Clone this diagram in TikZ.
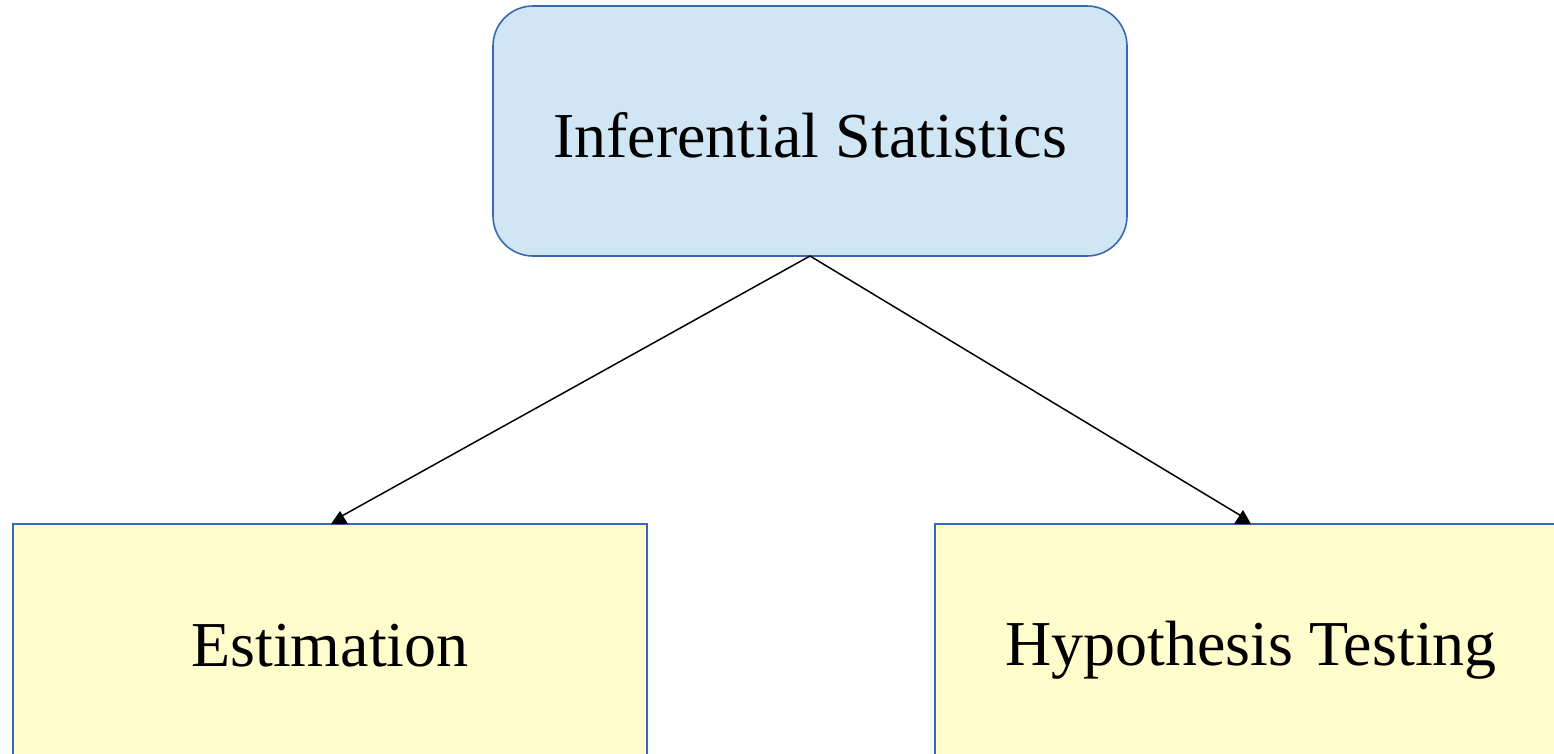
\documentclass[tikz,border=0pt]{standalone}
\usepackage{fontspec}
\setmainfont{Liberation Serif}
\definecolor{boxblue}{HTML}{D0E6F4}
\definecolor{boxyellow}{HTML}{FFFDCB}
\definecolor{edgeblue}{HTML}{3A68B0}
\tikzset{
  topbox/.style={draw=edgeblue, line width=1.6pt, fill=boxblue, rounded corners=40pt},
  leafbox/.style={draw=edgeblue, line width=1.6pt, fill=boxyellow},
  lbl/.style={font=\fontsize{64}{74}\selectfont, inner sep=0pt, anchor=base},
  conn/.style={line width=1.5pt},
  tiphead/.style={fill=black}
}
\begin{document}
\begin{tikzpicture}[x=1pt,y=-1pt]
\useasboundingbox (0,0) rectangle (1554,753);
\clip (0,0) rectangle (1554,753);
\draw[topbox] (493,6) rectangle (1127,256);
\draw[leafbox] (13,524) rectangle (647,790);
\draw[leafbox] (935,524) rectangle (1569,790);
\node[lbl] (inf) at (810,157) {Inferential Statistics};
\node[lbl] (est) at (330,666) {Estimation};
\node[lbl] (hyp) at (1251,665) {Hypothesis Testing};
\coordinate (top) at (810,256);
\coordinate (l) at (340,517);
\coordinate (r) at (1243,517);
\draw[conn] (top) -- (l);
\draw[conn] (top) -- (r);
\fill[tiphead] (331,524) -- (340,511) -- (348,524) -- cycle;
\fill[tiphead] (1234,524) -- (1243,510) -- (1251,524) -- cycle;
\end{tikzpicture}
\end{document}
